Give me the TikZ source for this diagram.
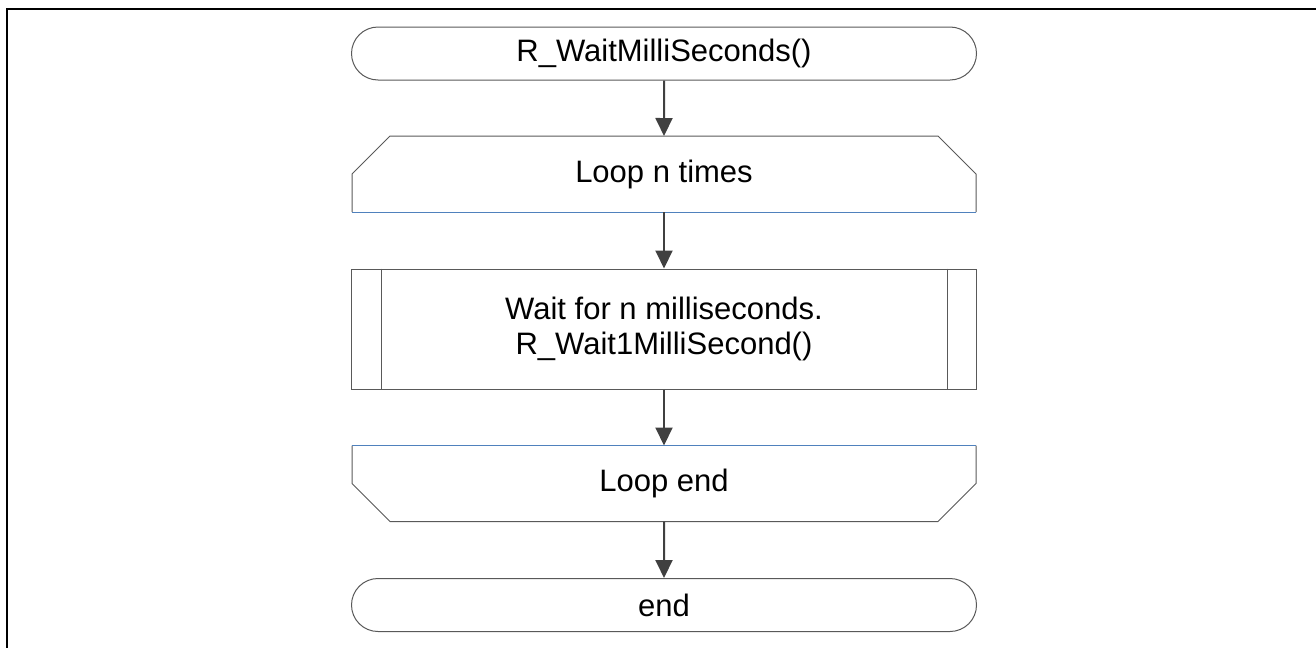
\documentclass[tikz,border=0pt]{standalone}
\usepackage{fontspec}
\setmainfont{Liberation Sans}
\usetikzlibrary{shapes.misc,arrows.meta}
\definecolor{edgegray}{RGB}{89,89,89}
\definecolor{arrowgray}{RGB}{64,64,64}
\definecolor{loopblue}{RGB}{79,129,189}
\tikzset{
  box/.style={draw=edgegray,line width=0.5pt,minimum width=312.5pt,inner sep=0pt,
    font=\fontsize{15.5}{17.5}\selectfont,align=center},
  term/.style={box,rounded rectangle,minimum height=26.5pt},
  loopbox/.style={box,draw=none,rectangle,minimum width=311.5pt,minimum height=37.5pt},
  outline/.style={draw=edgegray,line width=0.5pt},
  proc/.style={box,rectangle,minimum height=60pt},
  flow/.style={draw=arrowgray,line width=1pt,-{Triangle[width=8.5pt,length=9pt]}}
}
\begin{document}
\begin{tikzpicture}[x=0.5pt,y=-0.5pt]
      \useasboundingbox (0,0) rectangle (1316,648);
      \draw[line width=1.1pt] (1316,9) -- (7,9) -- (7,648);
      \node[term] (start) at (664,53.5) {R\_WaitMilliSeconds()};
      \node[loopbox] (lstart) at (664,174) {Loop n times};
      \draw[outline] (lstart.south west) -- ([yshift=-19pt]lstart.north west) -- ([xshift=19pt]lstart.north west)
        -- ([xshift=-19pt]lstart.north east) -- ([yshift=-19pt]lstart.north east) -- (lstart.south east);
      \draw[loopblue,line width=0.5pt] (lstart.south west) -- (lstart.south east);
      \node[proc] (wait) at (664,329) {Wait for n milliseconds.\\R\_Wait1MilliSecond()};
      \draw[outline] ([xshift=15pt]wait.north west) -- ([xshift=15pt]wait.south west);
      \draw[outline] ([xshift=-15pt]wait.north east) -- ([xshift=-15pt]wait.south east);
      \node[loopbox] (lend) at (664,483.5) {Loop end};
      \draw[outline] (lend.north west) -- ([yshift=19pt]lend.south west) -- ([xshift=19pt]lend.south west)
        -- ([xshift=-19pt]lend.south east) -- ([yshift=19pt]lend.south east) -- (lend.north east);
      \draw[loopblue,line width=0.5pt] (lend.north west) -- (lend.north east);
      \node[term] (stop) at (664,605) {end};
      \draw[flow] (start) -- (lstart);
      \draw[flow] (lstart) -- (wait);
      \draw[flow] (wait) -- (lend);
      \draw[flow] (lend) -- (stop);
    \end{tikzpicture}
\end{document}
